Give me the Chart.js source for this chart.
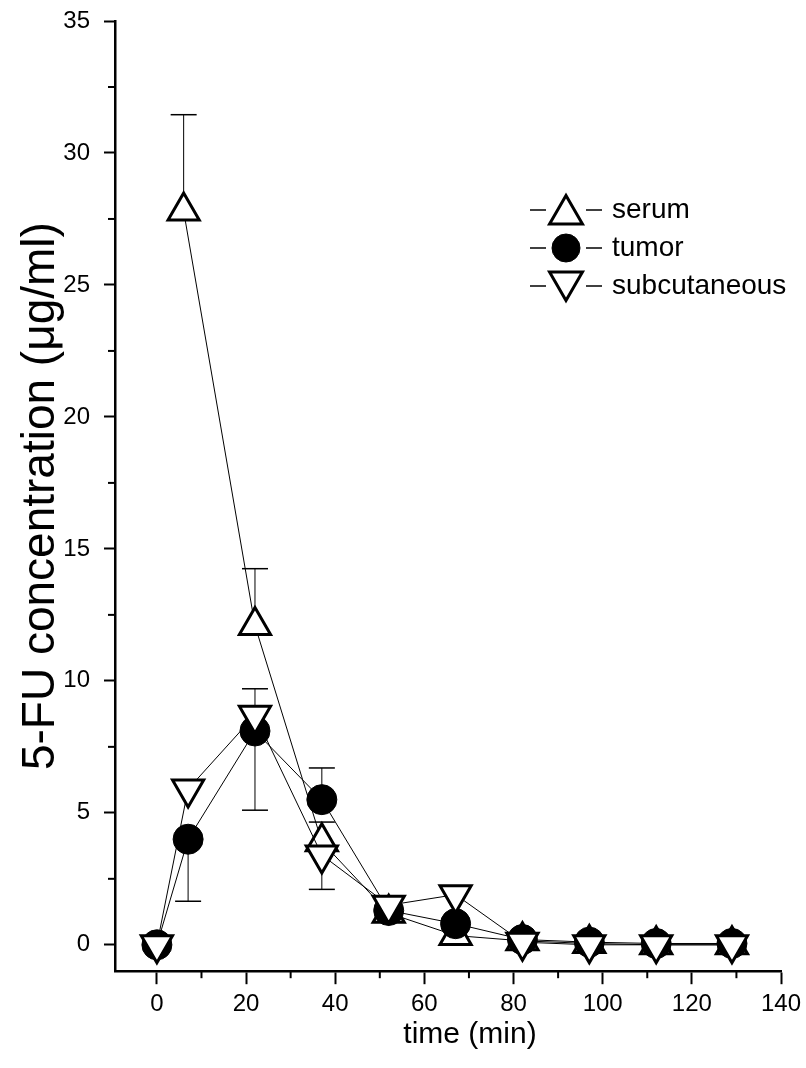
<!DOCTYPE html>
<html>
<head>
<meta charset="utf-8">
<script src="https://cdn.jsdelivr.net/npm/chart.js@4.4.1/dist/chart.umd.min.js"></script>
<style>
html, body { margin: 0; padding: 0; background: #fff; }
#wrap { width: 806px; height: 1068px; }
</style>
</head>
<body>
<div id="wrap"><canvas id="chart"></canvas></div>
<script>
// sampling times (min)
var times = [0, 7, 22, 37, 52, 67, 82, 97, 112, 129];
var serumTimes = [6, 22, 37, 52, 67, 82, 97, 112, 129];

// 5-FU concentration (ug/ml)
var serum  = [27.8, 12.1, 3.9, 1.2, 0.35, 0.15, 0.05, 0, 0];
var tumor  = [0, 4.0, 8.1, 5.5, 1.3, 0.8, 0.2, 0.1, 0.05, 0.05];
var subcut = [0, 5.9, 8.7, 3.4, 1.5, 1.9, 0.1, 0, 0, 0];

// one-sided error bars (only the visible halves)
var serumErrUp    = [3.65, 2.15, 0.75, 0, 0, 0, 0, 0, 0];
var tumorErrUp    = [0, 0, 0, 1.2, 0, 0, 0, 0, 0, 0];
var tumorErrDown  = [0, 2.35, 3.0, 0, 0, 0, 0, 0, 0, 0];
var subcutErrUp   = [0, 0, 1.0, 0, 0, 0, 0, 0, 0, 0];
var subcutErrDown = [0, 0, 0, 1.3, 0, 0, 0, 0, 0, 0];

var xTicks = [0, 20, 40, 60, 80, 100, 120, 140];
var yTicks = [0, 5, 10, 15, 20, 25, 30, 35];

var FONT = '"Liberation Sans", Arial, sans-serif';

function pts(xs, ys) {
  return xs.map(function (x, i) { return { x: x, y: ys[i] }; });
}

var errorBars = {
  id: 'errorBars',
  beforeDatasetsDraw: function (chart) {
    var ctx = chart.ctx, xs = chart.scales.x, ys = chart.scales.y;
    var sets = [
      [serumTimes, serum, serumErrUp, null],
      [times, tumor, tumorErrUp, tumorErrDown],
      [times, subcut, subcutErrUp, subcutErrDown]
    ];
    ctx.save();
    ctx.strokeStyle = '#000';
    sets.forEach(function (s) {
      s[0].forEach(function (t, i) {
        var px = xs.getPixelForValue(t);
        var y0 = ys.getPixelForValue(s[1][i]);
        [s[2], s[3]].forEach(function (err, k) {
          if (!err || !err[i]) return;
          var v = k === 0 ? s[1][i] + err[i] : s[1][i] - err[i];
          var py = ys.getPixelForValue(v);
          ctx.lineWidth = 1;
          ctx.beginPath(); ctx.moveTo(px, y0); ctx.lineTo(px, py); ctx.stroke();
          ctx.lineWidth = 1.5;
          ctx.beginPath(); ctx.moveTo(px - 13, py); ctx.lineTo(px + 13, py); ctx.stroke();
        });
      });
    });
    ctx.restore();
  }
};

var minorTicks = {
  id: 'minorTicks',
  afterDraw: function (chart) {
    var ctx = chart.ctx, xs = chart.scales.x, ys = chart.scales.y;
    var area = chart.chartArea;
    ctx.save();
    ctx.strokeStyle = '#000';
    ctx.lineWidth = 2;
    for (var v = 10; v < 140; v += 20) {
      var px = xs.getPixelForValue(v);
      ctx.beginPath(); ctx.moveTo(px, area.bottom); ctx.lineTo(px, area.bottom + 7); ctx.stroke();
    }
    for (var w = 2.5; w < 35; w += 5) {
      var py = ys.getPixelForValue(w);
      ctx.beginPath(); ctx.moveTo(area.left, py); ctx.lineTo(area.left - 7, py); ctx.stroke();
    }
    // x axis title, sits a bit right of the axis centre in the original
    ctx.fillStyle = '#000';
    ctx.font = '30px ' + FONT;
    ctx.textAlign = 'center';
    ctx.textBaseline = 'middle';
    ctx.fillText('time (min)', 470, 1035);
    ctx.restore();
  }
};

var legendBox = {
  id: 'legendBox',
  afterDraw: function (chart) {
    var ctx = chart.ctx;
    var items = chart.data.datasets.slice().sort(function (a, b) { return a.legendIndex - b.legendIndex; });
    ctx.save();
    items.forEach(function (ds, i) {
      var cx = 566, cy = 210 + i * 38;
      ctx.strokeStyle = '#000';
      ctx.lineWidth = 1.5;
      ctx.beginPath(); ctx.moveTo(530, cy); ctx.lineTo(546, cy); ctx.stroke();
      ctx.beginPath(); ctx.moveTo(586, cy); ctx.lineTo(602, cy); ctx.stroke();
      var dy = 0;
      if (ds.pointStyle === 'triangle') dy = ds.pointRotation ? -4.5 : 4.5;
      ctx.fillStyle = ds.pointBackgroundColor;
      ctx.strokeStyle = '#000';
      ctx.lineWidth = ds.pointBorderWidth;
      Chart.helpers.drawPoint(ctx, {
        pointStyle: ds.pointStyle, radius: ds.pointStyle === 'circle' ? 14 : 19,
        rotation: ds.pointRotation || 0, borderWidth: ds.pointBorderWidth
      }, cx, cy + dy);
      ctx.fillStyle = '#000';
      ctx.font = '28px ' + FONT;
      ctx.textBaseline = 'middle';
      ctx.fillText(ds.label, 612, cy);
    });
    ctx.restore();
  }
};

new Chart(document.getElementById('chart'), {
  type: 'line',
  data: {
    datasets: [
      {
        label: 'subcutaneous', legendIndex: 2, order: 1,
        data: pts(times, subcut),
        borderColor: '#000', borderWidth: 1,
        pointStyle: 'triangle', pointRotation: 180, pointRadius: 18,
        pointBackgroundColor: '#fff', pointBorderColor: '#000', pointBorderWidth: 3
      },
      {
        label: 'tumor', legendIndex: 1, order: 2,
        data: pts(times, tumor),
        borderColor: '#000', borderWidth: 1,
        pointStyle: 'circle', pointRadius: 15,
        pointBackgroundColor: '#000', pointBorderColor: '#000', pointBorderWidth: 1
      },
      {
        label: 'serum', legendIndex: 0, order: 3,
        data: pts(serumTimes, serum),
        borderColor: '#000', borderWidth: 1,
        pointStyle: 'triangle', pointRadius: 18,
        pointBackgroundColor: '#fff', pointBorderColor: '#000', pointBorderWidth: 3
      }
    ]
  },
  options: {
    responsive: true,
    maintainAspectRatio: false,
    animation: false,
    layout: { padding: { left: 0, right: 0, top: 0, bottom: 43 } },
    plugins: { legend: { display: false }, tooltip: { enabled: false } },
    scales: {
      x: {
        type: 'linear', min: -9.4, max: 140,
        afterBuildTicks: function (axis) { axis.ticks = xTicks.map(function (v) { return { value: v }; }); },
        afterFit: function (axis) { axis.paddingRight = 25; },
        grid: { drawOnChartArea: false, color: '#000', tickLength: 13, tickWidth: 2 },
        border: { color: '#000', width: 2.5 },
        ticks: { color: '#000', padding: 6, maxRotation: 0, font: { family: FONT, size: 24 } }
      },
      y: {
        type: 'linear', min: -1, max: 35,
        afterBuildTicks: function (axis) { axis.ticks = yTicks.map(function (v) { return { value: v }; }); },
        afterFit: function (axis) { axis.width = 115; axis.paddingTop = 17; },
        grid: { drawOnChartArea: false, color: '#000', tickLength: 11, tickWidth: 2 },
        border: { color: '#000', width: 2.5 },
        ticks: { color: '#000', padding: 14, font: { family: FONT, size: 24 } },
        title: { display: true, text: '5-FU concentration (μg/ml)', color: '#000', padding: { top: 18, bottom: 0 },
          font: { family: FONT, size: 46, lineHeight: 1.0 } }
      }
    }
  },
  plugins: [errorBars, minorTicks, legendBox]
});
</script>
</body>
</html>
